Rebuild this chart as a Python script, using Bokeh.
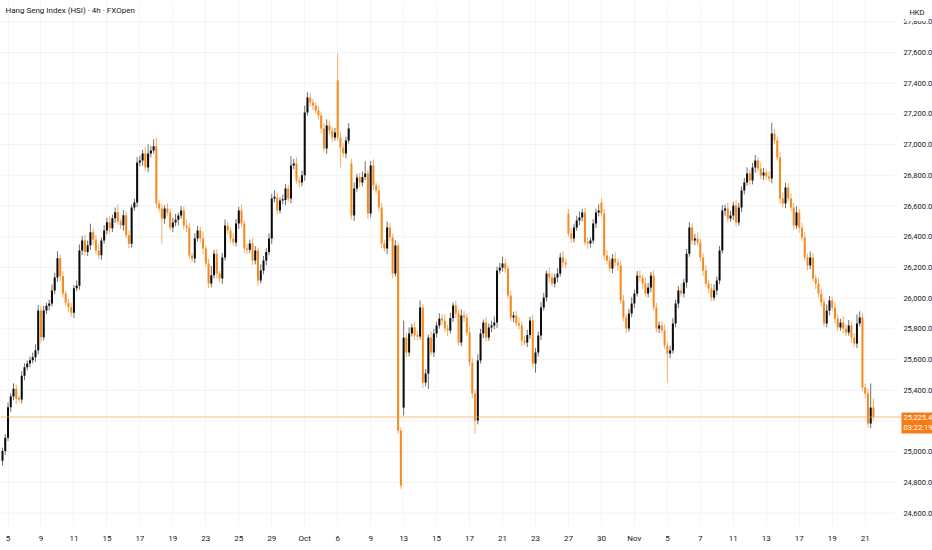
from bokeh.plotting import figure
from bokeh.models import Range1d, FixedTicker, Span, Label, ColumnDataSource
from bokeh.core.properties import value
from bokeh.embed import file_html
from bokeh.resources import INLINE

# ---- data (HSI, 4h bars, FXOpen) ----
closes = [
    25005, 25090, 25290, 25360, 25410, 25345, 25340, 25495, 25550, 25575,
    25595, 25615, 25660, 25920, 25745, 25920, 25950, 25965, 26050, 26135,
    26260, 26145, 26030, 25970, 25940, 25905, 26065, 26080, 26310,
    26375, 26300, 26345, 26430, 26380, 26310, 26280, 26375, 26440, 26495,
    26455, 26520, 26560, 26500, 26475, 26540, 26410, 26355,
    26590, 26623, 26884, 26897, 26942, 26851, 26942, 26962, 26990,
    26616, 26584, 26519, 26584, 26558, 26460, 26493, 26510,
    26538, 26571, 26473, 26460, 26278, 26258, 26388, 26441, 26388, 26323, 26226, 26095, 26150,
    26290, 26160, 26128, 26265, 26473, 26441, 26388, 26362, 26486, 26571, 26486, 26323, 26315,
    26356, 26245, 26310, 26115, 26180, 26245, 26300,
    26388, 26649, 26656, 26571, 26636, 26640, 26714, 26649, 26864, 26877, 26766, 26753, 26800,
    27209, 27307, 27274, 27255, 27222, 27190, 27105, 26975, 27125, 27092, 27046, 27079,
    27046, 26981, 26942, 27027, 27105, 26538, 26714, 26786, 26753, 26790,
    26812, 26551, 26864, 26734, 26701, 26590, 26356, 26323, 26460, 26395, 26160, 26343,
    25137, 24779, 25743, 25646, 25770, 25809, 25757, 25750, 25939, 25450, 25509, 25743,
    25646, 25770, 25822, 25867, 25854, 25802, 25789, 25870,
    25952, 25900, 25711, 25887, 25874, 25776, 25581, 25379, 25203, 25594, 25770, 25841,
    25743, 25809, 25822, 25841, 26180, 26199, 26226, 26193, 26017, 25874, 25887, 25835,
    25822, 25724, 25711, 25760,
    25854, 25574, 25646, 25757, 25939, 26004, 26160, 26134, 26095, 26134, 26160, 26265,
    26232, 26219,
    26421, 26388, 26460, 26506, 26525, 26558, 26362, 26356, 26375, 26486,
    26558, 26571, 26551, 26278, 26245, 26193, 26258, 26232, 26213, 25985,
    25874, 25802, 25900, 25965, 26030, 26147, 26134, 26095, 26030, 26069,
    26147, 25939, 25802, 25822, 25789, 25691, 25639, 25659, 25835, 25965,
    26050, 26030, 26102, 26290, 26460, 26375, 26388, 26362, 26265, 26180,
    26095, 26063, 26004, 26050, 26115, 26310, 26571, 26584, 26519, 26538,
    26603, 26493, 26590, 26701, 26753, 26812, 26766, 26851, 26897, 26844,
    26799, 26818, 26792, 26779,
    27073, 27027, 26916, 26649, 26616, 26721, 26649, 26590, 26473, 26558,
    26460, 26395, 26265, 26213, 26265, 26128, 26095, 26030, 25972, 25835,
    25919, 25985, 25939, 25867, 25809, 25841, 25800, 25776, 25822,
    25743, 25704, 25835, 25874, 25418, 25379, 25183, 25287, 25225.4,
]
# opens that differ from the previous close (session gaps)
gap_opens = {0: 24940, 122: 27418, 127: 26877, 146: 25287, 206: 26551, 218: 26623}
upper_wicks = [
    20, 25, 30, 20, 35, 25, 20, 30, 25, 20,
    25, 30, 40, 35, 25, 30, 20, 25, 40, 30,
    45, 25, 30, 20, 25, 30, 20, 35, 40, 30,
    40, 30, 55, 25, 30, 45, 20, 35, 30, 40,
    25, 30, 50, 20, 35, 25, 30, 20, 25, 35,
    30, 25, 40, 60, 30, 45, 56, 25, 30, 20,
    35, 25, 30, 40, 20, 30, 25, 40, 30, 20,
    35, 30, 25, 45, 20, 30, 60, 25, 30, 20,
    30, 40, 25, 20, 35, 30, 25, 40, 20, 30,
    25, 35, 30, 20, 40, 30, 25, 35, 30, 45,
    30, 20, 35, 30, 25, 60, 30, 40, 25, 30,
    45, 35, 30, 25, 20, 30, 25, 35, 40, 30,
    25, 30, 176, 40, 30, 25, 35, 30, 40, 25,
    30, 35, 80, 25, 30, 40, 20, 35, 30, 25,
    40, 30, 25, 35, 20, 20, 111, 30, 40, 25,
    35, 30, 45, 25, 30, 20, 40, 30, 25, 35,
    30, 40, 25, 35, 20, 30, 25, 40, 30, 25,
    35, 30, 25, 40, 30, 20, 35, 25, 30, 40,
    25, 30, 45, 30, 20, 35, 25, 30, 40, 25,
    30, 35, 25, 40, 30, 25, 35, 30, 20, 40,
    30, 25, 35, 30, 40, 25, 30, 35, 25, 30,
    40, 25, 30, 35, 20, 30, 25, 40, 26, 30,
    35, 25, 30, 40, 25, 30, 35, 25, 30, 40,
    25, 30, 35, 20, 40, 30, 25, 35, 30, 25,
    30, 40, 25, 30, 35, 25, 30, 45, 25, 30,
    35, 25, 30, 40, 25, 30, 35, 25, 30, 40,
    25, 30, 35, 25, 40, 30, 25, 35, 30, 25,
    30, 40, 25, 30, 35, 25, 40, 30, 25, 35,
    71, 30, 25, 35, 40, 30, 25, 35, 30, 40,
    25, 30, 35, 25, 40, 30, 25, 35, 30, 25,
    40, 30, 25, 35, 30, 25, 40, 30, 35, 25,
    30, 60, 40, 30, 25, 30, 157, 60,
]
lower_wicks = [
    30, 25, 20, 30, 25, 35, 20, 25, 30, 20,
    25, 20, 30, 25, 35, 20, 25, 30, 20, 25,
    30, 35, 25, 20, 30, 25, 35, 20, 25, 30,
    20, 25, 30, 35, 20, 25, 30, 20, 25, 35,
    25, 30, 20, 25, 35, 20, 30, 25, 20, 30,
    25, 35, 20, 30, 25, 20, 30, 25, 163, 35,
    25, 20, 30, 25, 35, 20, 25, 30, 20, 25,
    30, 20, 25, 35, 20, 30, 25, 20, 30, 25,
    35, 20, 25, 30, 20, 25, 35, 20, 30, 25,
    20, 30, 25, 35, 20, 25, 30, 20, 35, 25,
    30, 20, 25, 35, 20, 30, 25, 20, 30, 25,
    35, 20, 25, 30, 20, 25, 30, 20, 35, 25,
    30, 20, 20, 130, 25, 30, 20, 25, 35, 20,
    30, 25, 20, 35, 25, 30, 20, 25, 30, 20,
    35, 25, 30, 20, 20, 20, 52, 30, 25, 20,
    30, 25, 20, 35, 25, 100, 20, 30, 25, 20,
    30, 25, 35, 20, 25, 30, 20, 25, 30, 20,
    25, 30, 85, 25, 20, 30, 25, 20, 30, 25,
    35, 20, 25, 30, 20, 25, 30, 20, 25, 35,
    20, 30, 25, 20, 60, 25, 30, 20, 25, 30,
    20, 25, 30, 20, 35, 25, 20, 30, 25, 20,
    30, 25, 20, 35, 25, 20, 30, 25, 20, 30,
    25, 20, 30, 25, 35, 20, 25, 30, 20, 25,
    30, 20, 25, 35, 20, 25, 30, 20, 25, 30,
    20, 25, 189, 30, 20, 25, 30, 20, 25, 35,
    20, 25, 30, 20, 25, 35, 20, 30, 25, 20,
    30, 25, 20, 35, 25, 20, 30, 25, 20, 30,
    25, 20, 30, 25, 35, 20, 25, 30, 20, 25,
    30, 25, 20, 35, 25, 30, 20, 25, 30, 20,
    35, 25, 20, 30, 25, 20, 35, 25, 30, 20,
    25, 30, 20, 35, 25, 20, 30, 25, 20, 35,
    25, 30, 20, 25, 30, 26, 30, 25,
]
day_ticks = [2, 14, 26, 38, 50, 62, 74, 86, 98, 110, 122, 134, 146, 158, 170, 182,
             194, 206, 218, 230, 242, 254, 266, 278, 290, 302, 314]
day_labels = ["5", "9", "11", "15", "17", "19", "23", "25", "29", "Oct", "6", "9", "13",
              "15", "17", "21", "23", "27", "30", "Nov", "5", "7", "11", "13", "17", "19", "21"]
price_ticks = [24600, 24800, 25000, 25200, 25400, 25600, 25800, 26000, 26200, 26400,
               26600, 26800, 27000, 27200, 27400, 27600, 27800]
last_price = 25225.4
countdown = "03:22:19"
title_text = "Hang Seng Index (HSI) \u00b7 4h \u00b7 FXOpen"
currency = "HKD"

# ---- derived OHLC ----
n = len(closes)
opens = [gap_opens.get(i, closes[i - 1] if i > 0 else closes[0]) for i in range(n)]
highs = [max(opens[i], closes[i]) + upper_wicks[i] for i in range(n)]
lows = [min(opens[i], closes[i]) - lower_wicks[i] for i in range(n)]
idx = list(range(n))

UP_BODY = "#0c0c0c"
UP_WICK = "#6f6f6f"
DN_BODY = "#f68a1f"
DN_WICK = "#f6ad62"
TEXT = "#131722"
BOX = "#f57c17"
FONT = "Roboto"

FRAME_W = 932
FRAME_H = 525
X_START, X_END = -0.73, 338.5     # bar-index range shown across the full width
SCALE_X = 327.9                   # where the price-scale labels sit (right margin)
CHART_END = 325.0                 # right end of the candle pane

up = [closes[i] >= opens[i] for i in range(n)]
def sel(mask):
    return ColumnDataSource(dict(
        x=[idx[i] for i in range(n) if mask[i]],
        top=[max(opens[i], closes[i]) + (4 if abs(opens[i] - closes[i]) < 8 else 0) for i in range(n) if mask[i]],
        bottom=[min(opens[i], closes[i]) for i in range(n) if mask[i]],
        high=[highs[i] for i in range(n) if mask[i]],
        low=[lows[i] for i in range(n) if mask[i]],
    ))
src_up = sel(up)
src_dn = sel([not u for u in up])

p = figure(frame_width=FRAME_W, frame_height=FRAME_H, output_backend="svg", toolbar_location=None,
           x_range=Range1d(X_START, X_END), y_range=Range1d(24519, 27939),
           y_axis_location=None, min_border_left=0, min_border_top=0,
           min_border_right=0, min_border_bottom=0)
p.outline_line_color = None
p.background_fill_color = "white"
p.border_fill_color = "white"

# grids
p.xgrid.ticker = FixedTicker(ticks=day_ticks)
p.xgrid.grid_line_color = "#f4f5f7"
p.ygrid.grid_line_color = None
p.segment(x0=[X_START] * len(price_ticks), x1=[CHART_END] * len(price_ticks),
          y0=price_ticks, y1=price_ticks, line_color="#f1f2f5", line_width=1)

# wicks and bodies
p.segment(x0="x", y0="low", x1="x", y1="high", source=src_up, line_color=UP_WICK, line_width=1)
p.segment(x0="x", y0="low", x1="x", y1="high", source=src_dn, line_color=DN_WICK, line_width=1)
p.vbar(x="x", top="top", bottom="bottom", width=0.74, source=src_up,
       fill_color=UP_BODY, line_color=None)
p.vbar(x="x", top="top", bottom="bottom", width=0.74, source=src_dn,
       fill_color=DN_BODY, line_color=None)

# current price line
p.add_layout(Span(location=last_price, dimension="width", line_color="#f7a456",
                  line_alpha=0.75, line_width=1))

# time axis
xa = p.xaxis[0]
xa.ticker = FixedTicker(ticks=day_ticks)
xa.major_label_overrides = {t: l for t, l in zip(day_ticks, day_labels)}
xa.axis_line_color = None
xa.major_tick_line_color = None
xa.minor_tick_line_color = None
xa.major_tick_out = 0
xa.major_tick_in = 0
xa.minor_tick_out = 0
xa.minor_tick_in = 0
xa.major_label_text_font = FONT
xa.major_label_text_font_size = "8px"
xa.major_label_text_color = TEXT
xa.major_label_standoff = 8

# price scale labels
p.text(x=[SCALE_X] * len(price_ticks), y=price_ticks,
       text=["{:,.1f}".format(v) for v in price_ticks],
       text_font=value(FONT), text_font_size="7.5px", text_color=TEXT,
       text_baseline="middle", text_align="left")

# texts (screen units are relative to the frame, origin bottom-left)
p.add_layout(Label(x=5, y=FRAME_H - 10, x_units="screen", y_units="screen", text=title_text,
                   text_font=FONT, text_font_size="8px", text_color=TEXT,
                   text_baseline="middle"))
p.add_layout(Label(x=905, y=FRAME_H - 12, x_units="screen", y_units="screen", text=currency,
                   text_font=FONT, text_font_size="7.5px", text_color=TEXT,
                   text_baseline="middle", background_fill_color="white",
                   background_fill_alpha=1.0, padding=4))
p.add_layout(Label(x=901, y=last_price, x_units="screen", y_units="data",
                   text="{:,.1f}".format(last_price), y_offset=0,
                   text_font=FONT, text_font_size="7.5px", text_color="white",
                   text_baseline="middle", background_fill_color=BOX,
                   background_fill_alpha=1.0, padding=2))
p.add_layout(Label(x=901, y=last_price, x_units="screen", y_units="data",
                   text=countdown, y_offset=-10,
                   text_font=FONT, text_font_size="7.5px", text_color="white",
                   text_baseline="middle", background_fill_color=BOX,
                   background_fill_alpha=1.0, padding=2))

open("out.html", "w").write(file_html(p, INLINE))
